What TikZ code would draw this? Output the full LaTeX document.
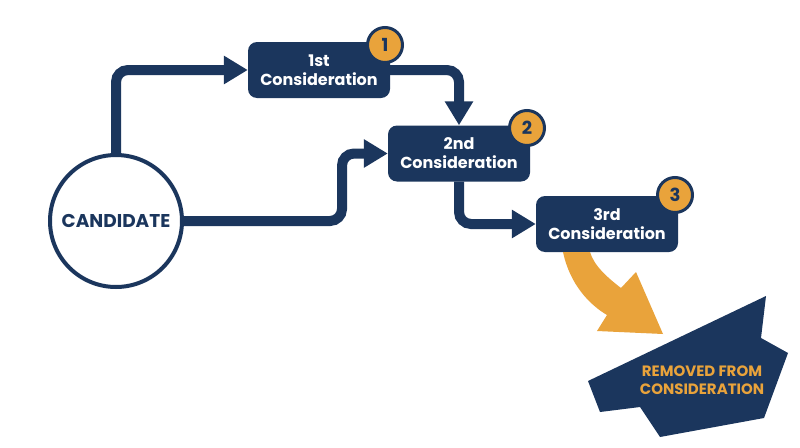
\documentclass[tikz,border=0pt]{standalone}
\usepackage{fontspec}
\setmainfont{Poppins}
\usetikzlibrary{arrows.meta}
\definecolor{navy}{HTML}{1B365D}
\definecolor{gold}{HTML}{E9A33B}
\tikzset{
  x=1pt,y=-1pt,
  conbox/.style={rectangle, rounded corners=9pt, fill=navy, text=white,
    minimum width=142pt, minimum height=56pt, align=center,
    font=\fontsize{16}{19}\selectfont\bfseries, inner sep=0pt},
  badge/.style={circle, fill=gold, draw=navy, line width=3pt, minimum size=35pt,
    inner sep=0pt, text=navy, font=\fontsize{18}{18}\selectfont\bfseries},
  conn/.style={draw=navy, line width=10pt, rounded corners=12pt,
    -{Triangle[length=24pt,width=27pt]}},
}
\begin{document}
\begin{tikzpicture}
\useasboundingbox (0,0) rectangle (800,447);
\fill[white] (0,0) rectangle (800,447);
% nodes
\node[circle, draw=navy, line width=4pt, fill=white, minimum size=132pt, inner sep=0pt,
  text=navy, font=\fontsize{18.5}{20}\selectfont\bfseries] (cand) at (116,221) {CANDIDATE};
\node[conbox] (b1) at (319,70) {1st\\Consideration};
\node[conbox] (b2) at (459,153.5) {2nd\\Consideration};
\node[conbox] (b3) at (607,224) {3rd\\Consideration};
\node[badge] (n1) at (385,45) {1};
\node[badge] (n2) at (527,128) {2};
\node[badge] (n3) at (675,195) {3};
% connectors
\coordinate (k2) at (342,221);
\draw[conn] (cand.north) |- (b1.west);
\draw[conn] (cand.east) -- (k2) |- (b2.west);
\draw[conn] (b1.east) -| (b2.north);
\draw[conn] (b2.south) |- (b3.west);
% orange curved arrow
\fill[gold] (563,252) .. controls (570,285) and (590,305) .. (607,315) -- (597,331)
  -- (663,334) -- (636,272) -- (621,288) .. controls (608,278) and (594,266) .. (590,252) -- cycle;
% removed polygon
\fill[navy] (588,381) -- (766,296) -- (761,338) -- (788,353) -- (764,418) -- (660,437)
  -- (640,407) -- (600,412) -- cycle;
\node[text=gold, align=center, font=\fontsize{15}{18}\selectfont\bfseries] (rem) at (702,380)
  {REMOVED FROM\\CONSIDERATION};
\end{tikzpicture}
\end{document}
